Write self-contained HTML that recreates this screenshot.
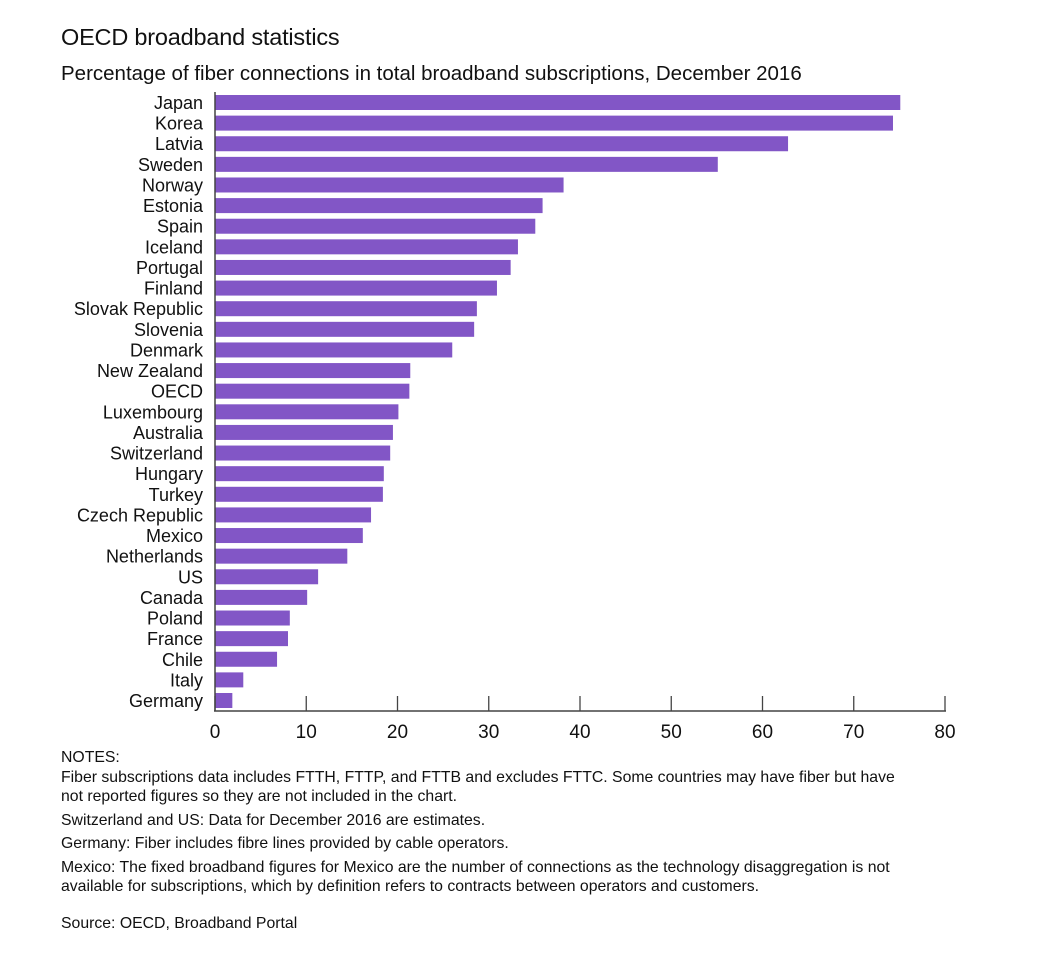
<!DOCTYPE html>
<html><head><meta charset="utf-8"><style>
body{margin:0;background:#fff;font-family:"Liberation Sans",sans-serif;color:#111;}
#wrap{position:relative;width:1056px;height:954px;}
.t{position:absolute;white-space:nowrap;}
</style></head><body>
<div id="wrap">
<div class="t" style="left:61px;top:24px;font-size:23.5px;letter-spacing:-0.2px;">OECD broadband statistics</div>
<div class="t" style="left:61px;top:62px;font-size:20.5px;">Percentage of fiber connections in total broadband subscriptions, December 2016</div>
<svg id="chart" width="1056" height="760" style="position:absolute;left:0;top:0;"></svg>
<div style="position:absolute;left:61px;top:748px;font-size:15.8px;line-height:19.5px;width:960px;">
<div>NOTES:</div>
<div>Fiber subscriptions data includes FTTH, FTTP, and FTTB and excludes FTTC. Some countries may have fiber but have<br>not reported figures so they are not included in the chart.</div>
<div style="margin-top:4px;">Switzerland and US: Data for December 2016 are estimates.</div>
<div style="margin-top:4px;">Germany: Fiber includes fibre lines provided by cable operators.</div>
<div style="margin-top:4px;">Mexico: The fixed broadband figures for Mexico are the number of connections as the technology disaggregation is not<br>available for subscriptions, which by definition refers to contracts between operators and customers.</div>
<div style="margin-top:17px;">Source: OECD, Broadband Portal</div>
</div>
</div>
<script>
const categories=["Japan","Korea","Latvia","Sweden","Norway","Estonia","Spain","Iceland","Portugal","Finland","Slovak Republic","Slovenia","Denmark","New Zealand","OECD","Luxembourg","Australia","Switzerland","Hungary","Turkey","Czech Republic","Mexico","Netherlands","US","Canada","Poland","France","Chile","Italy","Germany"];
const values=[75.1,74.3,62.8,55.1,38.2,35.9,35.1,33.2,32.4,30.9,28.7,28.4,26.0,21.4,21.3,20.1,19.5,19.2,18.5,18.4,17.1,16.2,14.5,11.3,10.1,8.2,8.0,6.8,3.1,1.9];
const ticks=[0,10,20,30,40,50,60,70,80];
const svg=document.getElementById('chart');
const NS='http://www.w3.org/2000/svg';
const x0=215,x1=945,xmax=80;
const X=v=>x0+(v/xmax)*(x1-x0);
const yTop=102.5,yBot=700.5;
const Y=i=>yTop+i*(yBot-yTop)/(categories.length-1);
function mk(t,a){const e=document.createElementNS(NS,t);for(const k in a)e.setAttribute(k,a[k]);svg.appendChild(e);return e;}
categories.forEach((c,i)=>{
  const r=mk('rect',{x:X(0),y:Y(i)-7.5,width:X(values[i])-X(0),height:15,fill:'#8256c6'});
  
  
  const t=mk('text',{x:203,y:Y(i)+6.5,'text-anchor':'end','font-size':'18','font-family':'Liberation Sans, sans-serif',fill:'#111'});
  t.textContent=c;
  
  
});
const ya=mk('line',{x1:x0,y1:92,x2:x0,y2:711,stroke:'#444','stroke-width':1.5});


const xa=mk('line',{x1:x0-1,y1:711,x2:x1+1,y2:711,stroke:'#444','stroke-width':1.5});


ticks.forEach(v=>{
  const l=mk('line',{x1:X(v),y1:696,x2:X(v),y2:711,stroke:'#444','stroke-width':1.3});
  
  
  const t=mk('text',{x:X(v),y:738,'text-anchor':'middle','font-size':'19','font-family':'Liberation Sans, sans-serif',fill:'#111'});
  t.textContent=v;
  
  
});
</script>
</body></html>
